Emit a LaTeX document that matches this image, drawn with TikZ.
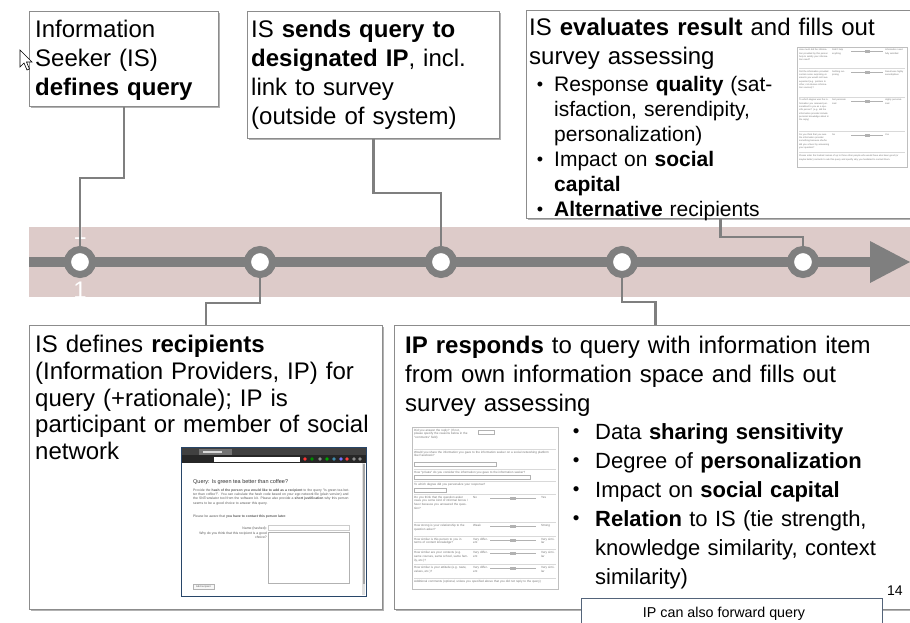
\documentclass[tikz,border=0pt]{standalone}
\usepackage{fontspec}
\usepackage{graphicx}
\setmainfont{Liberation Sans}
\usetikzlibrary{shadows}

\definecolor{band}{RGB}{221,203,201}
\definecolor{rail}{RGB}{127,127,127}
\definecolor{frame}{RGB}{140,140,140}
\definecolor{slate}{RGB}{84,100,122}
\definecolor{navy}{RGB}{40,70,105}

\newcommand{\bul}[1]{\makebox[#1][l]{\hspace*{0.03em}\raisebox{0.05em}{\scalebox{0.86}{\textbullet}}}}
\newcommand{\bulpad}[1]{\hspace*{#1}}

\tikzset{
  panel/.style={draw=frame, line width=0.8pt, fill=white, anchor=north west, inner sep=0pt,
    drop shadow={shadow xshift=1.2pt, shadow yshift=-1.2pt, fill=black, opacity=0.3}},
  say/.style={anchor=base west, inner sep=0pt, align=left, font=\fontsize{24}{29}\selectfont},
  station/.style={circle, draw=rail, line width=7pt, fill=white, minimum size=25pt, inner sep=0pt},
  tether/.style={draw=rail, line width=2.5pt},
  wee/.style={anchor=north west, inner sep=0pt, align=left, text=black!55, font=\fontsize{3}{3.6}\selectfont},
  rule/.style={draw=black!15, line width=0.3pt},
}

\begin{document}
\begin{tikzpicture}[x=1pt,y=-1pt]
\useasboundingbox (0,0) rectangle (910,622);

\fill[band] (29,227) rectangle (910,297);
\coordinate (start) at (29,262);
\coordinate (head) at (870,262);
\coordinate (tip) at (910,262);
\draw[rail, line width=10pt] (start) -- (head);
\fill[rail] (870,241) -- (tip) -- (870,283) -- cycle;

\foreach \n/\x in {1/80,2/260,3/441,4/622,5/803}
  \node[station] (c\n) at (\x,262) {};
\node[text=white, inner sep=0pt, font=\fontsize{24}{29}\selectfont] (onea) at (80,231.5) {1};
\node[text=white, inner sep=0pt, font=\fontsize{24}{29}\selectfont] (oneb) at (80,290) {1};

\node[panel, minimum width=189pt, minimum height=95pt] (defbox) at (29,11) {};
\node[panel, minimum width=252pt, minimum height=127pt] (sendbox) at (247,11) {};
\node[panel, minimum width=388pt, minimum height=208pt] (evalbox) at (526,10) {};
\node[panel, minimum width=353pt, minimum height=284pt] (recbox) at (29,325) {};
\node[panel, minimum width=522pt, minimum height=284pt] (respbox) at (394,325) {};

\draw[tether] (defbox.south) |- (80,178) -- (c1);
\draw[tether] (sendbox.south) |- (441,193) -- (c3);
\draw[tether] (evalbox.south) |- (803,237) -- (c5);
\draw[tether] (recbox.north) |- (260,303) -- (c2);
\draw[tether] (respbox.north) |- (622,302) -- (c4);

\node[say, text width=182pt] (deftxt) at (35,37.5) {Information\\Seeker (IS)\\\textbf{defines query}};
\node[say, text width=245pt] (sendtxt) at (251,37.5) {IS \textbf{sends query to}\\\textbf{designated IP}, incl.\\link to survey\\(outside of system)};
\node[say, text width=380pt] (evaltxt) at (529,35) {IS \textbf{evaluates result} and fills out\\survey assessing};
\node[say, text width=250pt, font=\fontsize{21}{25}\selectfont] (evallist) at (536,91.7)
  {\bul{18pt}Response \textbf{quality} (sat-\\\bulpad{18pt}isfaction, serendipity,\\\bulpad{18pt}personalization)\\\bul{18pt}Impact on \textbf{social}\\\bulpad{18pt}\textbf{capital}\\\bul{18pt}\textbf{Alternative} recipients};
\node[say, text width=345pt, font=\fontsize{24}{26.7}\selectfont] (rectxt) at (35,352.7) {IS defines \textbf{recipients}\\(Information Providers, IP) for\\query (+rationale); IP is\\participant or member of social\\network};
\node[say, text width=500pt] (resptxt) at (405,353) {\textbf{IP responds} to query with information item\\from own information space and fills out\\survey assessing};
\node[say, text width=330pt, font=\fontsize{22}{29}\selectfont] (resplist) at (572,439)
  {\bul{23pt}Data \textbf{sharing sensitivity}\\\bul{23pt}Degree of \textbf{personalization}\\\bul{23pt}Impact on \textbf{social capital}\\\bul{23pt}\textbf{Relation} to IS (tie strength,\\\bulpad{23pt}knowledge similarity, context\\\bulpad{23pt}similarity)};

\draw[fill=white, line width=0.6pt] (20,50) -- (20,67) -- (24,63) -- (27,70) -- (29.5,69) -- (26.5,62) -- (32,62) -- cycle;

\draw[black!25, fill=white, line width=0.5pt] (797,47) rectangle (907,167);
\foreach \y in {68.5,97,131.5,152.5}
  \draw[rule] (799,\y) -- (905,\y);
\foreach \y/\q/\l/\r in {
  49/{How much did the information provided by this person help to satisfy your information need?}/{Didn't help anything}/{Information need fully satisfied},
  70.5/{Did the information provided contain some surprising elements you would not have expected (e.g. pointers to other, not obvious information sources)?}/{Nothing surprising}/{Result was highly serendipitous},
  99/{To which degree was the information you received personalized to you as a specific person? (e.g. did the information provider include personal knowledge about in the reply)}/{Not personalized}/{Highly personalized},
  133.5/{Do you think that you owe the information provider something because she/he did you a favor by answering your question?}/{No}/{Yes}} {
  \node[wee, text width=30pt, font=\fontsize{2.3}{3.3}\selectfont] at (799,\y) {\q};
  \node[wee, text width=16pt, font=\fontsize{2.3}{3.3}\selectfont] at (832,\y) {\l};
  \draw[black!30, line width=0.3pt] (851,\y+2) -- (883,\y+2);
  \draw[black!30, line width=0.3pt] (865,\y+1) rectangle (869,\y+3);
  \node[wee, text width=20pt, font=\fontsize{2.3}{3.3}\selectfont] at (885,\y) {\r};
}
\node[wee, text width=104pt, font=\fontsize{2.3}{3.3}\selectfont] (evalnote) at (799,155) {Please enter the hashed names of up to three other people who would have also been good (or maybe better) contacts to ask this query and specify why you hesitated to contact them.};

\draw[black!25, fill=white, line width=0.5pt] (412,427) rectangle (558,589);
\foreach \y in {449,469,481.5,494,522.5,536,549.5,564.5,578.5}
  \draw[rule] (414,\y) -- (556,\y);
\node[wee, text width=55pt] (qa) at (414,429) {Did you answer the reply? (If not, please specify the reasons below in the "comments" field)};
\draw[black!30, line width=0.3pt] (478,430.5) rectangle (494,434);
\node[wee, text width=140pt] (qb) at (414,451) {Would you share the information you gave to the information seeker on a social networking platform like Facebook?};
\draw[black!30, line width=0.3pt] (414,462) rectangle (496,466);
\node[wee, text width=140pt] (qc) at (414,471) {How "private" do you consider the information you gave to the information seeker?};
\draw[black!30, line width=0.3pt] (414,475.5) rectangle (530,479.5);
\node[wee, text width=140pt] (qd) at (414,483.5) {To which degree did you personalize your response?};
\draw[black!30, line width=0.3pt] (414,488) rectangle (446,492);
\foreach \y/\q/\l/\r in {
  496/{Do you think that the question asker owes you some kind of informal bonus / favor because you answered the question?}/{No}/{Yes},
  524.5/{How strong is your relationship to the question asker?}/{Weak}/{Strong},
  538/{How similar is this person to you in terms of content knowledge?}/{Very different}/{Very similar},
  551.5/{How similar are your contexts (e.g. same courses, same school, same family, etc.)?}/{Very different}/{Very similar},
  566.5/{How similar is your attitude (e.g. taste, values, etc.)?}/{Very different}/{Very similar}} {
  \node[wee, text width=54pt] at (414,\y) {\q};
  \node[wee, text width=15pt] at (473,\y) {\l};
  \draw[black!30, line width=0.3pt] (490,\y+2) -- (536,\y+2);
  \draw[black!30, line width=0.3pt] (510,\y+1) rectangle (515,\y+3);
  \node[wee, text width=15pt] at (541,\y) {\r};
}
\node[wee, text width=140pt] (qe) at (414,580) {Additional comments (optional, unless you specified above that you did not reply to the query)};

\fill[white] (181,447) rectangle (366,596);
\fill[black!75] (181,447) rectangle (366,455);
\fill[black!55] (199,448.5) rectangle (232,455);
\fill[black!15] (203,450.5) rectangle (222,453);
\fill[black!85] (181,455) rectangle (366,463);
\fill[white] (214,456.5) rectangle (300,461.5);
\foreach \x/\c in {305/red!80,312/green!55!black,320/black!45,327/green!65!black,334/cyan!65!black,341/blue!55,347/red!75,354/black!45,360/black!45}
  \fill[\c] (\x,459) circle (1.8pt);
\fill[black!12] (362,463) rectangle (365,595);
\fill[black!35] (362.5,464) rectangle (364.5,584);
\node[anchor=base west, inner sep=0pt, text=black!80, font=\fontsize{5.5}{6.5}\selectfont] (qtitle) at (193,483) {Query: Is green tea better than coffee?};
\node[wee, text width=158pt, text=black!65, font=\fontsize{3.4}{4.3}\selectfont] (qpara) at (193,488.5) {Provide the \textbf{hash of the person you would like to add as a recipient} to the query "Is green tea better than coffee?". You can calculate the hash code based on your ego network file (plain version) and the SNTranslator tool from the software kit. Please also provide a \textbf{short justification} why this person seems to be a good choice to answer this query.};
\node[anchor=base west, inner sep=0pt, text=black!65, font=\fontsize{3.4}{4.3}\selectfont] (qnote) at (193,517) {Please be aware that \textbf{you have to contact this person later}.};
\node[anchor=base east, inner sep=0pt, text=black!65, font=\fontsize{3.4}{4.3}\selectfont] (qname) at (267,529) {Name (hashed):};
\draw[black!20, line width=0.3pt] (268,525.5) rectangle (349,530);
\node[anchor=north east, inner sep=0pt, align=right, text=black!65, font=\fontsize{3.4}{4.3}\selectfont] (qwhy) at (267,532) {Why do you think that this recipient is a good\\choice?};
\draw[black!30, line width=0.4pt] (268,532) rectangle (349,583);
\draw[black!30, fill=black!3, line width=0.3pt] (193,584) rectangle (214,589.5);
\node[inner sep=0pt, text=black!65, font=\fontsize{2.5}{3}\selectfont] (qadd) at (203.5,586.8) {Add recipient};
\draw[navy, line width=0.9pt] (181,447) rectangle (366,596);

\node[anchor=base west, inner sep=0pt, font=\fontsize{14}{17}\selectfont] (pageno) at (887,595) {14};
\node[draw=slate, line width=0.8pt, fill=white, anchor=north west, inner sep=0pt, minimum width=301pt, minimum height=40pt] (fwdbox) at (581,598) {};
\node[anchor=base, inner sep=0pt, font=\fontsize{14.3}{17}\selectfont] (fwdtxt) at (724,617) {IP can also forward query};
\end{tikzpicture}
\end{document}
